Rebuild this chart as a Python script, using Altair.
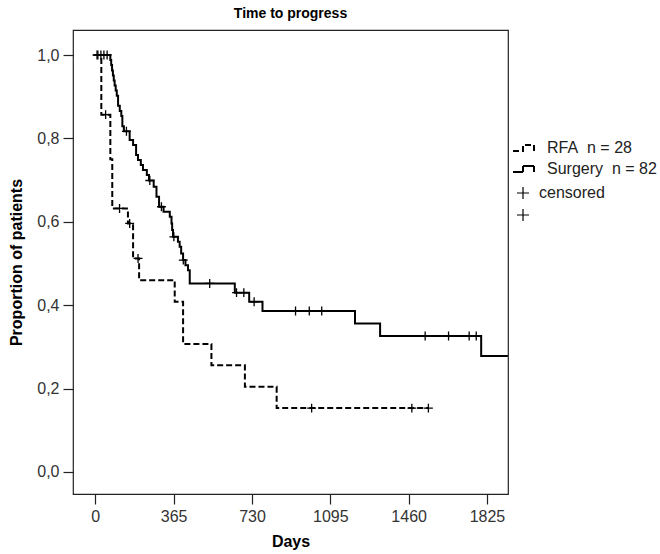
import altair as alt
import pandas as pd
import numpy as np

# ---- data (Kaplan-Meier steps) ----
rfa_days = [0, 28, 70, 79, 152, 176, 204, 370, 409, 541, 697, 845, 1552]
rfa_surv = [1.0, 0.857, 0.75, 0.632, 0.596, 0.512, 0.46, 0.408, 0.307, 0.256, 0.204, 0.153, 0.153]
rfa_censored = [8, 48, 113, 160, 199, 1008, 1475, 1552]

surg_days = [0, 70, 74, 78, 82, 86, 90, 95, 100, 106,
             114, 121, 126, 133, 160, 176, 190, 199, 212, 222,
             240, 250, 272, 285, 297, 318, 347, 355, 358, 362,
             385, 393, 400, 409, 420, 432, 440, 650, 717, 779,
             1210, 1327, 1798, 1950]
surg_surv = [1.0, 0.988, 0.976, 0.963, 0.951, 0.939, 0.927, 0.915, 0.902, 0.878,
             0.866, 0.854, 0.829, 0.817, 0.796, 0.784, 0.760, 0.748, 0.736, 0.724,
             0.712, 0.699, 0.684, 0.660, 0.636, 0.624, 0.612, 0.596, 0.580, 0.564,
             0.552, 0.540, 0.524, 0.508, 0.496, 0.484, 0.452, 0.430, 0.408, 0.386,
             0.356, 0.326, 0.278, 0.278]
surg_censored = [12, 26, 40, 55, 145, 254, 308, 366, 410, 533, 658, 692, 740,
                 933, 997, 1055, 1537, 1646, 1742, 1775]

groups = ["RFA", "Surgery"]
legend_labels = ["RFA\u00a0 n = 28", "Surgery\u00a0 n = 82"]
x_ticks = [0, 365, 730, 1095, 1460, 1825]
y_ticks = [0.0, 0.2, 0.4, 0.6, 0.8, 1.0]


def step_value(days, surv, t):
    i = np.searchsorted(np.array(days), t, side="right") - 1
    return surv[i]


line_df = pd.DataFrame({
    "day": rfa_days + surg_days,
    "surv": rfa_surv + surg_surv,
    "group": [groups[0]] * len(rfa_days) + [groups[1]] * len(surg_days),
})
cens_df = pd.DataFrame({
    "day": rfa_censored + surg_censored,
    "surv": [step_value(rfa_days, rfa_surv, t) for t in rfa_censored]
    + [step_value(surg_days, surg_surv, t) for t in surg_censored],
    "cgroup": ["RFA c"] * len(rfa_censored) + ["Surgery c"] * len(surg_censored),
})

FONT = "Liberation Sans"
cross = "M-1,0L1,0M0,-1L0,1"
step_sym = "M-1.5,0.3L-0.5,0.3L-0.5,-0.3L0.6,-0.3L0.6,0.3"

x_enc = alt.X("day:Q",
              scale=alt.Scale(domain=[-104, 1923], nice=False, zero=False),
              axis=alt.Axis(values=x_ticks, title="Days", format="d"))
y_enc = alt.Y("surv:Q",
              scale=alt.Scale(domain=[-0.053, 1.06], nice=False, zero=False),
              axis=alt.Axis(values=y_ticks, format=".1f",
                            labelExpr="replace(datum.label, '.', ',')",
                            title="Proportion of patients"))

lines = alt.Chart(line_df).mark_line(
    interpolate="step-after", strokeWidth=2, color="black", clip=True
).encode(
    x=x_enc, y=y_enc,
    strokeDash=alt.StrokeDash(
        "group:N",
        scale=alt.Scale(domain=groups, range=[[6, 3], [1, 0]]),
        legend=alt.Legend(
            title=None, orient="none", legendX=444, legendY=107,
            symbolType=step_sym, symbolSize=400, symbolStrokeWidth=2,
            symbolStrokeColor="black", symbolFillColor="transparent",
            labelOffset=8, rowPadding=2,
            labelExpr="datum.label == 'RFA' ? '%s' : '%s'" % (legend_labels[0], legend_labels[1]),
        ),
    ),
)

cens = alt.Chart(cens_df).mark_point(
    shape=cross, size=80, strokeWidth=1.3, color="black", filled=False, opacity=1, clip=True
).encode(
    x="day:Q", y="surv:Q",
    shape=alt.Shape(
        "cgroup:N",
        scale=alt.Scale(domain=["RFA c", "Surgery c"], range=[cross, cross]),
        legend=alt.Legend(
            title=None, orient="none", legendX=442, legendY=155,
            symbolSize=144, symbolStrokeWidth=1.2, symbolStrokeColor="black",
            labelOffset=8, rowPadding=4,
            labelExpr="datum.label == 'RFA c' ? 'censored' : ''",
        ),
    ),
)

chart = alt.layer(lines, cens).properties(
    width=435, height=464,
    title=alt.TitleParams("Time to progress", font=FONT, fontSize=14, fontWeight="bold",
                          color="black", anchor="middle", offset=9),
    autosize=alt.AutoSizeParams(type="none"),
    padding={"left": 73, "top": 30, "right": 152, "bottom": 60},
).configure_view(
    stroke="#222", strokeWidth=1.2
).configure_axis(
    domain=False, grid=False, tickColor="#222", tickSize=10, tickWidth=1.2,
    labelFont=FONT, labelFontSize=16, labelColor="#333", labelPadding=4,
    titleFont=FONT, titleFontSize=16, titleFontWeight="bold", titleColor="black",
).configure_axisY(
    titlePadding=12
).configure_axisX(
    titlePadding=9
).configure_legend(
    labelFont=FONT, labelFontSize=16, labelColor="#222",
)

chart.save("out.html", embed_options={"renderer": "svg", "actions": False})
